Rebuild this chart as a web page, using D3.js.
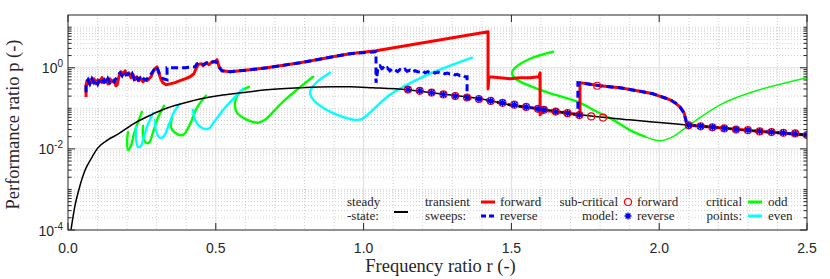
<!DOCTYPE html>
<html>
<head>
<meta charset="utf-8">
<script src="https://cdn.jsdelivr.net/npm/d3@7"></script>
<style>
  body { margin: 0; background: #fff; }
  .tick-label { font-family: "Liberation Sans", Arial, sans-serif; font-size: 14px; fill: #262626; }
  .serif { font-family: "Liberation Serif", "Times New Roman", serif; fill: #262626; }
</style>
</head>
<body>
<div id="chart"></div>
<script>

///////////////////////////////////////////////////////////////////////////
////////////////////////////////// Data ///////////////////////////////////
///////////////////////////////////////////////////////////////////////////

// [r, p] pairs
var steadyState = [[0.010,1e-4],[0.024,4.1e-4],[0.037,1e-3],[0.058,3.0e-3],[0.078,5.7e-3],[0.101,0.0106],
  [0.135,0.0167],[0.169,0.023],[0.227,0.044],[0.281,0.069],[0.338,0.103],[0.396,0.137],[0.45,0.172],
  [0.507,0.204],[0.558,0.228],[0.673,0.286],[0.785,0.321],[0.896,0.34],[0.954,0.34],[1.032,0.321],
  [1.147,0.286],[1.258,0.228],[1.394,0.172],[1.505,0.118],[1.62,0.092],[1.732,0.069],[1.90,0.052],
  [1.98,0.046],[2.094,0.039],[2.206,0.033],[2.317,0.028],[2.5,0.022]]

var forwardSweep = [[0.061,0.19],[0.061,0.36],[0.064,0.48],[0.068,0.40],[0.074,0.505],[0.081,0.43],[0.088,0.535],
  [0.095,0.40],[0.101,0.505],[0.108,0.45],[0.115,0.57],[0.122,0.43],[0.129,0.505],[0.135,0.40],[0.142,0.535],
  [0.149,0.45],[0.156,0.505],[0.162,0.36],[0.166,0.38],[0.173,0.63],[0.179,0.80],[0.186,0.71],[0.193,0.84],
  [0.2,0.67],[0.206,0.75],[0.213,0.57],[0.22,0.67],[0.227,0.505],[0.233,0.60],[0.24,0.48],[0.247,0.535],
  [0.254,0.45],[0.26,0.505],[0.267,0.48],[0.274,0.535],[0.281,0.60],[0.288,0.80],[0.294,0.95],[0.301,1.06],
  [0.308,0.71],[0.315,0.505],[0.321,0.43],[0.332,0.38],[0.345,0.40],[0.362,0.43],[0.379,0.48],[0.396,0.535],
  [0.413,0.60],[0.426,0.71],[0.433,0.945],[0.44,1.19],[0.45,1.26],[0.457,1.12],[0.467,1.33],[0.477,1.19],
  [0.487,1.41],[0.497,1.41],[0.504,1.58],[0.511,1.06],[0.521,0.843],[0.548,0.796],[0.616,0.893],[0.673,1.0],
  [0.785,1.33],[0.896,1.87],[0.954,2.22],[1.042,2.63],[1.421,7.74],[1.421,0.30],[1.424,0.60],[1.461,0.566],
  [1.495,0.535],[1.529,0.566],[1.563,0.566],[1.593,0.60],[1.597,0.75],[1.597,0.069],[1.61,0.09],[1.732,0.069],
  [1.732,0.43],[1.80,0.36],[1.867,0.321],[1.94,0.26],[1.979,0.228],[2.02,0.18],[2.037,0.162],[2.055,0.135],
  [2.07,0.109],[2.084,0.077],[2.09,0.052],[2.094,0.039],[2.206,0.033],[2.317,0.028],[2.5,0.022]]

var reverseSweep = [[0.061,0.25],[0.061,0.40],[0.068,0.505],[0.074,0.40],[0.081,0.535],[0.088,0.43],[0.095,0.505],
  [0.101,0.40],[0.108,0.535],[0.115,0.45],[0.122,0.505],[0.129,0.40],[0.135,0.535],[0.142,0.43],[0.149,0.505],
  [0.156,0.45],[0.162,0.535],[0.169,0.67],[0.176,0.75],[0.183,0.634],[0.189,0.796],[0.196,0.67],[0.203,0.71],
  [0.21,0.60],[0.217,0.71],[0.223,0.535],[0.23,0.634],[0.237,0.505],[0.244,0.566],[0.25,0.477],[0.257,0.535],
  [0.264,0.505],[0.271,0.566],[0.277,0.634],[0.284,0.753],[0.291,0.893],[0.298,1.06],[0.304,0.893],[0.311,0.672],
  [0.321,0.535],[0.335,0.505],[0.335,1.0],[0.362,1.0],[0.396,1.0],[0.43,1.06],[0.436,1.26],[0.45,1.33],
  [0.46,1.19],[0.47,1.33],[0.48,1.26],[0.491,1.41],[0.501,1.41],[0.507,1.12],[0.521,0.843],[0.548,0.796],
  [0.616,0.893],[0.673,1.0],[0.785,1.33],[0.896,1.87],[0.954,2.22],[1.042,2.48],[1.042,0.426],[1.049,1.06],
  [1.055,1.12],[1.062,0.95],[1.066,1.0],[1.072,0.89],[1.08,1.0],[1.089,0.84],[1.097,0.95],[1.106,0.89],
  [1.115,0.80],[1.123,0.90],[1.132,0.84],[1.14,0.92],[1.147,0.82],[1.157,0.87],[1.165,0.78],[1.174,0.85],
  [1.183,0.80],[1.191,0.78],[1.20,0.84],[1.208,0.75],[1.217,0.80],[1.225,0.76],[1.233,0.80],[1.242,0.74],
  [1.25,0.78],[1.258,0.75],[1.267,0.77],[1.275,0.71],[1.284,0.74],[1.292,0.70],[1.30,0.72],[1.309,0.67],
  [1.317,0.69],[1.326,0.64],[1.335,0.66],[1.343,0.60],[1.35,0.60],[1.35,0.18],[1.394,0.172],[1.505,0.118],
  [1.62,0.092],[1.725,0.069],[1.725,0.43],[1.80,0.36],[1.867,0.321],[1.94,0.26],[1.979,0.228],[2.02,0.18],
  [2.037,0.162],[2.055,0.135],[2.07,0.109],[2.084,0.077],[2.09,0.052],[2.094,0.039],[2.206,0.033],[2.317,0.028],
  [2.5,0.022]]

// sub-critical model points
var modelFwdR = [1.15,1.19,1.23,1.27,1.31,1.35,1.39,1.43,1.47,1.51,1.55,1.59,1.61,1.65,1.69,1.73,1.77,1.81,1.79,
  2.10,2.14,2.18,2.22,2.26,2.30,2.34,2.38,2.42,2.46,2.50]
var modelFwdP = [0.29,0.27,0.245,0.22,0.20,0.185,0.17,0.152,0.137,0.123,0.108,0.097,0.092,0.083,0.076,0.068,0.063,0.059,0.36,
  0.038,0.036,0.034,0.032,0.030,0.029,0.027,0.026,0.025,0.024,0.022]
var modelRevR = [1.15,1.19,1.23,1.27,1.31,1.35,1.39,1.43,1.47,1.51,1.55,1.59,1.61,1.65,1.69,1.73,
  2.10,2.14,2.18,2.22,2.26,2.30,2.34,2.38,2.42,2.46,2.50]
var modelRevP = [0.29,0.27,0.245,0.22,0.20,0.185,0.17,0.152,0.137,0.123,0.108,0.097,0.092,0.083,0.076,0.068,
  0.038,0.036,0.034,0.032,0.030,0.029,0.027,0.026,0.025,0.024,0.022]

// critical points, odd (green) and even (cyan) orders
var odd1 = [[0.203,0.026],[0.2,0.0158],[0.203,0.0094],[0.213,0.0119],[0.223,0.023],[0.237,0.046],[0.25,0.082]]
var odd2 = [[0.254,0.037],[0.254,0.021],[0.264,0.0141],[0.274,0.0141],[0.288,0.026],[0.304,0.058],[0.325,0.115]]
var odd3 = [[0.352,0.058],[0.348,0.035],[0.362,0.025],[0.389,0.022],[0.413,0.041],[0.436,0.103],[0.467,0.204]]
var odd4 = [[0.612,0.34],[0.582,0.255],[0.565,0.137],[0.572,0.077],[0.606,0.052],[0.643,0.044],[0.666,0.052],
  [0.727,0.145],[0.829,0.599]]
var odd5 = [[1.641,2.48],[1.563,1.67],[1.509,0.945],[1.502,0.711],[1.519,0.505],[1.597,0.286],[1.732,0.137],
  [1.776,0.092],[1.844,0.052],[1.901,0.029],[1.952,0.020],[2.003,0.0158],[2.047,0.020],[2.094,0.035],
  [2.206,0.122],[2.317,0.255],[2.5,0.566]]
var even1 = [[0.23,0.035],[0.23,0.0187],[0.237,0.0112],[0.247,0.0119],[0.257,0.020],[0.271,0.041],[0.288,0.077]]
var even2 = [[0.294,0.052],[0.298,0.028],[0.311,0.0187],[0.325,0.021],[0.342,0.041],[0.359,0.082],[0.379,0.129]]
var even3 = [[0.423,0.092],[0.43,0.052],[0.447,0.035],[0.474,0.031],[0.494,0.046],[0.531,0.103],[0.592,0.303]]
var even4 = [[0.886,0.753],[0.836,0.403],[0.819,0.255],[0.825,0.182],[0.863,0.103],[0.92,0.065],[0.971,0.052],
  [0.995,0.055],[1.089,0.216],[1.201,0.599],[1.367,1.77]]

var xTicks = [0, 0.5, 1, 1.5, 2, 2.5]
var xTickLabels = ["0.0", "0.5", "1.0", "1.5", "2.0", "2.5"]
var yTicks = [1e-4, 1e-2, 1]
var yTickExp = ["-4", "-2", "0"]

///////////////////////////////////////////////////////////////////////////
///////////////////////////////// Globals /////////////////////////////////
///////////////////////////////////////////////////////////////////////////

var canvasDim = { width: 830, height: 279 }
var margin = { top: 15, right: 23, bottom: 49, left: 68 }
var width = canvasDim.width - margin.left - margin.right
var height = canvasDim.height - margin.top - margin.bottom

var svg = d3.select("#chart").append("svg")
    .attr("width", canvasDim.width)
    .attr("height", canvasDim.height)
  .append("g")
    .attr("transform", "translate(" + margin.left + "," + margin.top + ")")

var x = d3.scaleLinear().domain([0, 2.5]).range([0, width])
var y = d3.scaleLog().domain([1e-4, 20]).range([height, 0])

svg.append("clipPath").attr("id", "clip")
  .append("rect").attr("width", width).attr("height", height)

//////////////////////////////// Grid /////////////////////////////////////

var xMinor = d3.range(1, 25).filter(i => i % 5 !== 0).map(i => i / 10)
var xMajor = [0.5, 1, 1.5, 2]
var yMinor = []
for (var e = -4; e <= 1; e++) {
  for (var k = 1; k <= 9; k++) {
    var v = k * Math.pow(10, e)
    if (v > 1e-4 && v < 20 && !(k === 1 && e % 2 === 0)) yMinor.push(v)
  }
}
var yMajor = [1e-2, 1]

var grid = svg.append("g")
grid.selectAll(".xminor").data(xMinor).enter().append("line")
  .attr("x1", d => x(d)).attr("x2", d => x(d)).attr("y1", 0).attr("y2", height)
  .style("stroke", "#c4c4c4").style("stroke-width", 0.8).style("stroke-dasharray", "1,2")
grid.selectAll(".yminor").data(yMinor).enter().append("line")
  .attr("x1", 0).attr("x2", width).attr("y1", d => y(d)).attr("y2", d => y(d))
  .style("stroke", "#c4c4c4").style("stroke-width", 0.8).style("stroke-dasharray", "1,2")
grid.selectAll(".xmajor").data(xMajor).enter().append("line")
  .attr("x1", d => x(d)).attr("x2", d => x(d)).attr("y1", 0).attr("y2", height)
  .style("stroke", "#dedede").style("stroke-width", 1)
grid.selectAll(".ymajor").data(yMajor).enter().append("line")
  .attr("x1", 0).attr("x2", width).attr("y1", d => y(d)).attr("y2", d => y(d))
  .style("stroke", "#dedede").style("stroke-width", 1)

//////////////////////////////// Lines ////////////////////////////////////

var plot = svg.append("g").attr("clip-path", "url(#clip)")

var smooth = d3.line().x(d => x(d[0])).y(d => y(d[1])).curve(d3.curveCatmullRom.alpha(0.5))
var straight = d3.line().x(d => x(d[0])).y(d => y(d[1]))

function drawCurve(data, color, w) {
  plot.append("path").attr("d", smooth(data))
    .style("fill", "none").style("stroke", color).style("stroke-width", w)
    .style("stroke-linejoin", "round").style("stroke-linecap", "round")
}

;[odd1, odd2, odd3, odd4].forEach(c => drawCurve(c, "#00ff00", 2.4))
drawCurve(odd5.filter(d => d[0] <= 1.952), "#00ff00", 2.4)
drawCurve(odd5.filter(d => d[0] >= 1.952), "#00ff00", 1.5)
;[even1, even2, even3, even4].forEach(c => drawCurve(c, "#00ffff", 2.4))

plot.append("path").attr("d", straight(forwardSweep))
  .style("fill", "none").style("stroke", "#ff0000").style("stroke-width", 3)
  .style("stroke-linejoin", "round")

plot.append("path").attr("d", straight(reverseSweep))
  .style("fill", "none").style("stroke", "#0000ff").style("stroke-width", 3)
  .style("stroke-dasharray", "7,4")

plot.append("path").attr("d", d3.line().x(d => x(d[0])).y(d => y(d[1])).curve(d3.curveMonotoneX)(steadyState))
  .style("fill", "none").style("stroke", "#000").style("stroke-width", 1.5)

// markers
function asterisk(s) {
  var a = s * 0.707
  return "M" + (-s) + ",0L" + s + ",0M0," + (-s) + "L0," + s +
    "M" + (-a) + "," + (-a) + "L" + a + "," + a + "M" + (-a) + "," + a + "L" + a + "," + (-a)
}

plot.selectAll(".fwd").data(modelFwdR).enter().append("circle")
  .attr("cx", d => x(d)).attr("cy", (d, i) => y(modelFwdP[i])).attr("r", 3.5)
  .style("fill", "none").style("stroke", "#ff0000").style("stroke-width", 1.2)

plot.selectAll(".rev").data(modelRevR).enter().append("path")
  .attr("transform", (d, i) => "translate(" + x(d) + "," + y(modelRevP[i]) + ")")
  .attr("d", asterisk(3.5))
  .style("fill", "none").style("stroke", "#0000ff").style("stroke-width", 1.4)

//////////////////////////////// Axes /////////////////////////////////////

var axes = svg.append("g")
axes.append("rect").attr("width", width).attr("height", height)
  .style("fill", "none").style("stroke", "#262626").style("stroke-width", 1)

xTicks.forEach(function (t, i) {
  axes.append("line").attr("x1", x(t)).attr("x2", x(t)).attr("y1", height).attr("y2", height - 7)
    .style("stroke", "#262626")
  axes.append("line").attr("x1", x(t)).attr("x2", x(t)).attr("y1", 0).attr("y2", 7)
    .style("stroke", "#262626")
  axes.append("text").attr("class", "tick-label")
    .attr("x", x(t)).attr("y", height + 23).attr("text-anchor", "middle")
    .text(xTickLabels[i])
})

yTicks.forEach(function (t, i) {
  axes.append("line").attr("x1", 0).attr("x2", 7).attr("y1", y(t)).attr("y2", y(t)).style("stroke", "#262626")
  axes.append("line").attr("x1", width).attr("x2", width - 7).attr("y1", y(t)).attr("y2", y(t)).style("stroke", "#262626")
  var lab = axes.append("text").attr("class", "tick-label")
    .attr("x", -5).attr("y", y(t) + 5.5).attr("text-anchor", "end")
  lab.append("tspan").text("10")
  lab.append("tspan").attr("dy", -6).style("font-size", "10px").text(yTickExp[i])
})

yMinor.forEach(function (t) {
  axes.append("line").attr("x1", 0).attr("x2", 3.5).attr("y1", y(t)).attr("y2", y(t)).style("stroke", "#262626")
  axes.append("line").attr("x1", width).attr("x2", width - 3.5).attr("y1", y(t)).attr("y2", y(t)).style("stroke", "#262626")
})

svg.append("text").attr("class", "serif")
  .attr("x", width / 2 + 3).attr("y", height + 42).attr("text-anchor", "middle")
  .style("font-size", "18.5px").text("Frequency ratio r (-)")

svg.append("text").attr("class", "serif")
  .attr("transform", "translate(" + (19 - margin.left) + "," + (height / 2 + 2) + ") rotate(-90)")
  .attr("text-anchor", "middle")
  .style("font-size", "18.5px").text("Performance ratio p (-)")

//////////////////////////////// Legend ///////////////////////////////////

var lg = svg.append("g").attr("transform", "translate(" + (-margin.left) + "," + (-margin.top) + ")")
function ltext(tx, ty, str, anchor) {
  lg.append("text").attr("class", "serif").attr("x", tx).attr("y", ty)
    .attr("text-anchor", anchor || "start").style("font-size", "13px").text(str)
}
function lline(x1, ly, color, dash) {
  lg.append("line").attr("x1", x1).attr("x2", x1 + 14).attr("y1", ly).attr("y2", ly)
    .style("stroke", color).style("stroke-width", color === "#000" ? 2 : 3)
    .style("stroke-dasharray", dash || null)
}

var row1 = 205.5, row2 = 220

ltext(347, row1, "steady"); ltext(347, row2, "-state:")
lline(394, 212, "#000")

ltext(425, row1, "transient"); ltext(425, row2, "sweeps:")
lline(481, 202, "#ff0000"); ltext(500, row1, "forward")
lline(481, 216, "#0000ff", "5,3"); ltext(500, row2, "reverse")

ltext(618, row1, "sub-critical", "end"); ltext(618, row2, "model:", "end")
lg.append("circle").attr("cx", 628).attr("cy", 202).attr("r", 3.5)
  .style("fill", "none").style("stroke", "#ff0000").style("stroke-width", 1.2)
lg.append("path").attr("transform", "translate(628,216)").attr("d", asterisk(3.5))
  .style("fill", "none").style("stroke", "#0000ff").style("stroke-width", 1.4)
ltext(637, row1, "forward"); ltext(637, row2, "reverse")

ltext(742, row1, "critical", "end"); ltext(742, row2, "points:", "end")
lline(748, 202, "#00ff00"); ltext(768, row1, "odd")
lline(748, 216, "#00ffff"); ltext(768, row2, "even")

</script>
</body>
</html>
